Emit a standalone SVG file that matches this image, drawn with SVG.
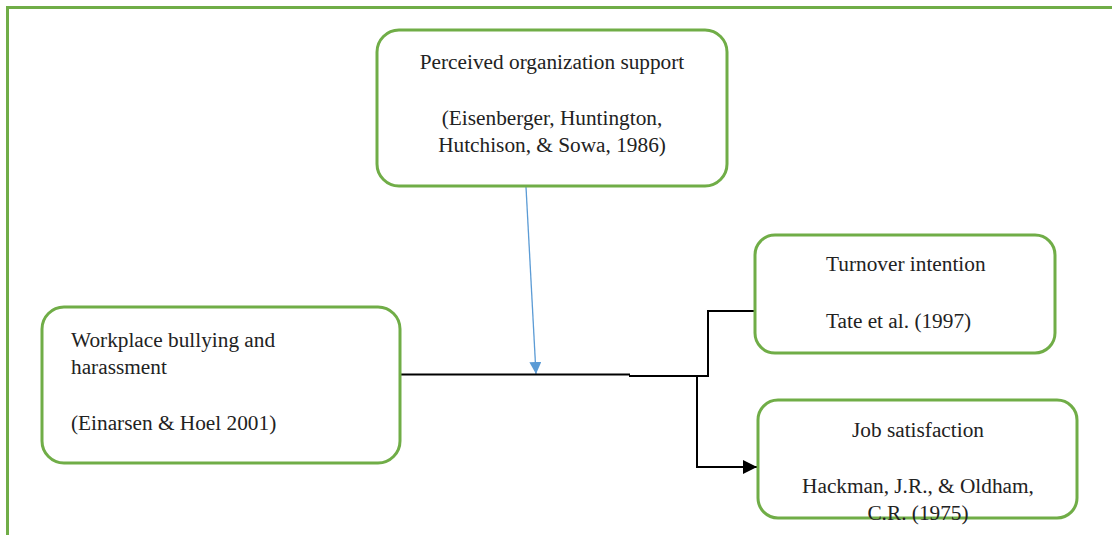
<svg xmlns="http://www.w3.org/2000/svg" width="1112" height="535" viewBox="0 0 1112 535">
<style>
.box{fill:#fff;stroke:#70AD47;stroke-width:3}
.t{font-family:"Liberation Serif","Times New Roman",serif;font-size:21.3px;fill:#222}
.c{text-anchor:middle}
.ln{fill:none;stroke:#000;stroke-width:2}
</style>
<defs>
<marker id="ab" viewBox="0 0 10 10" refX="10" refY="5" markerWidth="12" markerHeight="12" orient="auto" markerUnits="userSpaceOnUse"><path d="M0,0L10,5L0,10z" fill="#5B9BD5"/></marker>
<marker id="ak" viewBox="0 0 10 10" refX="10" refY="5" markerWidth="14" markerHeight="14" orient="auto" markerUnits="userSpaceOnUse"><path d="M0,0L10,5L0,10z" fill="#000"/></marker>
</defs>
<rect x="7.5" y="7.5" width="1120" height="540" fill="none" stroke="#70AD47" stroke-width="3"/>
<g id="connectors">
<line x1="526" y1="187" x2="536" y2="374" stroke="#5B9BD5" stroke-width="1.3" marker-end="url(#ab)"/>
<line class="ln" x1="400" y1="374.5" x2="630" y2="374.5"/>
<polyline class="ln" points="629,376 708,376 708,311 758,311" stroke-width="2.5"/>
<polyline class="ln" points="697,376 697,467 757,467" marker-end="url(#ak)"/>
</g>
<g id="pos">
<rect class="box" x="377" y="30" width="350" height="156" rx="22"/>
<text class="t c" x="552" y="69">Perceived organization support</text>
<text class="t c" x="552" y="125">(Eisenberger, Huntington,</text>
<text class="t c" x="552" y="152">Hutchison, &amp; Sowa, 1986)</text>
</g>
<g id="bullying">
<rect class="box" x="42" y="307" width="358" height="156" rx="22"/>
<text class="t" x="71" y="347">Workplace bullying and</text>
<text class="t" x="71" y="374">harassment</text>
<text class="t" x="71" y="430">(Einarsen &amp; Hoel 2001)</text>
</g>
<g id="turnover">
<rect class="box" x="755" y="235" width="300" height="118" rx="20"/>
<text class="t" x="826" y="271">Turnover intention</text>
<text class="t" x="826" y="328">Tate et al. (1997)</text>
</g>
<g id="jobsat">
<rect class="box" x="758" y="400" width="319" height="118" rx="20"/>
<text class="t c" x="918" y="437">Job satisfaction</text>
<text class="t c" x="918" y="493">Hackman, J.R., &amp; Oldham,</text>
<text class="t c" x="918" y="520">C.R. (1975)</text>
</g>
</svg>
